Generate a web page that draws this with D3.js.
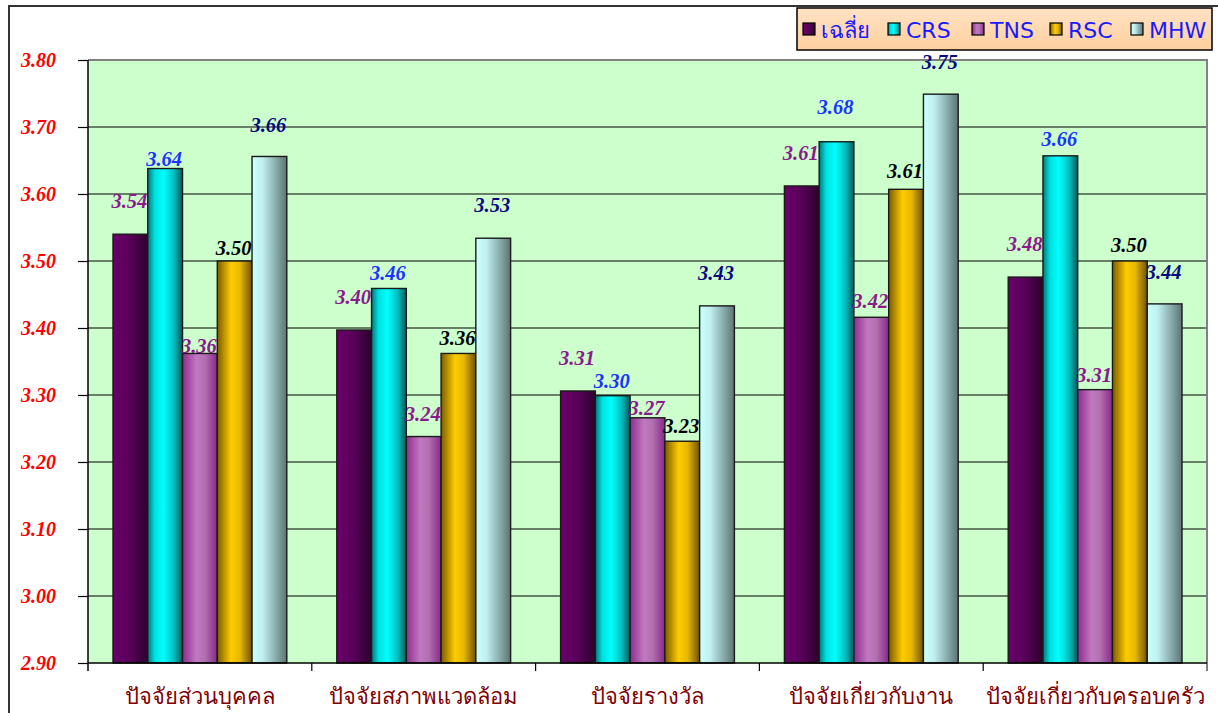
<!DOCTYPE html>
<html>
<head>
<meta charset="utf-8">
<script src="https://cdn.jsdelivr.net/npm/d3@7/dist/d3.min.js"></script>
<style>
  html, body { margin: 0; padding: 0; background: #ffffff; }
  svg { display: block; }
</style>
</head>
<body>
<svg id="chart" width="1218" height="713"></svg>
<script>
// ---- data ----
const categories = ["ปัจจัยส่วนบุคคล", "ปัจจัยสภาพแวดล้อม", "ปัจจัยรางวัล", "ปัจจัยเกี่ยวกับงาน", "ปัจจัยเกี่ยวกับครอบครัว"];
const seriesNames = ["เฉลี่ย", "CRS", "TNS", "RSC", "MHW"];
const avgValues = [3.540, 3.397, 3.306, 3.612, 3.476];
const crsValues = [3.638, 3.459, 3.299, 3.678, 3.657];
const tnsValues = [3.362, 3.238, 3.266, 3.416, 3.308];
const rscValues = [3.500, 3.362, 3.231, 3.607, 3.500];
const mhwValues = [3.656, 3.534, 3.433, 3.749, 3.436];
const yTicks = [2.90, 3.00, 3.10, 3.20, 3.30, 3.40, 3.50, 3.60, 3.70, 3.80];

const seriesValues = [avgValues, crsValues, tnsValues, rscValues, mhwValues];

// ---- styles ----
const gradients = [
  [["0%", "#6a006a"], ["45%", "#5a005a"], ["100%", "#2e002e"]],
  [["0%", "#007878"], ["20%", "#00e0e0"], ["45%", "#00ffff"], ["75%", "#00c0c0"], ["100%", "#005858"]],
  [["0%", "#8e2c8e"], ["40%", "#c07ac0"], ["65%", "#b070b0"], ["100%", "#882888"]],
  [["0%", "#7a5c00"], ["40%", "#ffcc00"], ["65%", "#e8b800"], ["100%", "#6e5200"]],
  [["0%", "#ccffff"], ["30%", "#c0f0f0"], ["100%", "#5c7474"]]
];
const labelColors = ["#8b1a8b", "#1a33ff", "#8b1a8b", "#000000", "#0a0a80"];
// label lift above bar top (px), per series and category (manual label placement)
const labelLift = [
  [33, 33, 33, 33, 33],
  [10, 16, 15, 35, 17],
  [8, 23, 10, 16, 15],
  [13, 16, 15, 18, 16],
  [32, 33, 33, 32, 32]
];

const svg = d3.select("#chart");
const defs = svg.append("defs");
gradients.forEach((stops, i) => {
  const g = defs.append("linearGradient").attr("id", "g" + i)
    .attr("x1", "0%").attr("x2", "100%").attr("y1", "0%").attr("y2", "0%");
  stops.forEach(s => g.append("stop").attr("offset", s[0]).attr("stop-color", s[1]));
});
const lg = defs.append("linearGradient").attr("id", "legendFill")
  .attr("x1", "0%").attr("x2", "0%").attr("y1", "0%").attr("y2", "100%");
lg.append("stop").attr("offset", "0%").attr("stop-color", "#ffe2c4");
lg.append("stop").attr("offset", "100%").attr("stop-color", "#ffcf9e");

const plotL = 88, plotR = 1207, plotT = 60, plotB = 663;

// outer frame
svg.append("path").attr("d", `M9,713 L9,6 L1225,6`).attr("fill", "none")
  .attr("stroke", "#333").attr("stroke-width", 2);

// plot background
svg.append("rect").attr("x", plotL).attr("y", plotT)
  .attr("width", plotR - plotL).attr("height", plotB - plotT).attr("fill", "#ccffcc");

const y = d3.scaleLinear().domain([2.9, 3.8]).range([plotB, plotT]);
const x0 = d3.scaleBand().domain(categories).range([plotL, plotR]).padding(0);
const groupPad = 25;
const x1 = d3.scaleBand().domain(seriesNames).range([groupPad, x0.bandwidth() - groupPad]).padding(0);

// gridlines
svg.append("g").selectAll("line").data(yTicks.slice(1, -1)).join("line")
  .attr("x1", plotL).attr("x2", plotR)
  .attr("y1", d => y(d)).attr("y2", d => y(d))
  .attr("stroke", "#000").attr("stroke-width", 1.2);
// top and right borders (grey)
svg.append("path").attr("d", `M${plotL},${y(3.8)} L${plotR},${y(3.8)} L${plotR},${plotB + 8}`)
  .attr("fill", "none").attr("stroke", "#808080").attr("stroke-width", 2);

// y axis
const yAxis = d3.axisLeft(y).tickValues(yTicks).tickSize(10).tickFormat(d3.format(".2f"));
const yg = svg.append("g").attr("transform", `translate(${plotL},0)`).call(yAxis);
yg.select(".domain").remove();
yg.selectAll(".tick line").attr("stroke", "#000").attr("stroke-width", 1.2);
yg.selectAll(".tick text").attr("x", -32)
  .attr("fill", "#ff0000").attr("font-family", "'Liberation Serif', 'Times New Roman', serif")
  .attr("font-weight", "bold").attr("font-style", "italic").attr("font-size", 20);
svg.append("line").attr("x1", plotL).attr("x2", plotL).attr("y1", plotT).attr("y2", plotB + 8)
  .attr("stroke", "#000").attr("stroke-width", 1.5);

// bars
const groups = svg.append("g").selectAll("g").data(categories).join("g")
  .attr("transform", d => `translate(${x0(d)},0)`);

groups.each(function(cat, ci) {
  const g = d3.select(this);
  seriesNames.forEach((s, si) => {
    const v = seriesValues[si][ci];
    g.append("rect")
      .attr("x", x1(s)).attr("y", y(v))
      .attr("width", x1.bandwidth()).attr("height", plotB - y(v))
      .attr("fill", `url(#g${si})`).attr("stroke", "#1a1a1a").attr("stroke-width", 1.4);
  });
  seriesNames.forEach((s, si) => {
    const v = seriesValues[si][ci];
    g.append("text")
      .attr("x", x1(s) + x1.bandwidth() / 2 - 1).attr("y", y(v) - labelLift[si][ci])
      .attr("dy", "0.35em").attr("text-anchor", "middle")
      .attr("font-family", "'Liberation Serif', 'Times New Roman', serif")
      .attr("font-weight", "bold").attr("font-style", "italic").attr("font-size", 20.5)
      .attr("fill", labelColors[si]).text(d3.format(".2f")(v));
  });
});

// x axis
const xAxis = d3.axisBottom(x0).tickSize(0).tickFormat(d => d);
const xg = svg.append("g").attr("transform", `translate(0,${plotB})`).call(xAxis);
xg.select(".domain").remove();
xg.selectAll(".tick text").attr("y", 33).attr("dy", "0.35em")
  .attr("fill", "#800000").attr("font-family", "Tahoma, 'Noto Sans', 'DejaVu Sans', sans-serif")
  .attr("font-size", 22);
svg.append("line").attr("x1", plotL).attr("x2", plotR).attr("y1", plotB).attr("y2", plotB)
  .attr("stroke", "#000").attr("stroke-width", 1.5);
svg.append("g").selectAll("line").data(categories.slice(1)).join("line")
  .attr("x1", d => x0(d)).attr("x2", d => x0(d))
  .attr("y1", plotB).attr("y2", plotB + 8).attr("stroke", "#000").attr("stroke-width", 1.2);

// legend
const legend = svg.append("g");
legend.append("rect").attr("x", 797).attr("y", 8).attr("width", 415).attr("height", 42)
  .attr("fill", "url(#legendFill)").attr("stroke", "#000").attr("stroke-width", 1.5);
const legendX = [803, 888, 972, 1050, 1131];
seriesNames.forEach((s, si) => {
  legend.append("rect").attr("x", legendX[si]).attr("y", 23).attr("width", 12).attr("height", 12)
    .attr("fill", `url(#g${si})`).attr("stroke", "#000").attr("stroke-width", 1.2);
  legend.append("text").attr("x", legendX[si] + 18).attr("y", 38)
    .attr("font-family", "Tahoma, 'DejaVu Sans', 'Noto Sans', sans-serif").attr("font-size", 22)
    .attr("fill", "#1a1aff").text(s);
});
</script>
</body>
</html>
